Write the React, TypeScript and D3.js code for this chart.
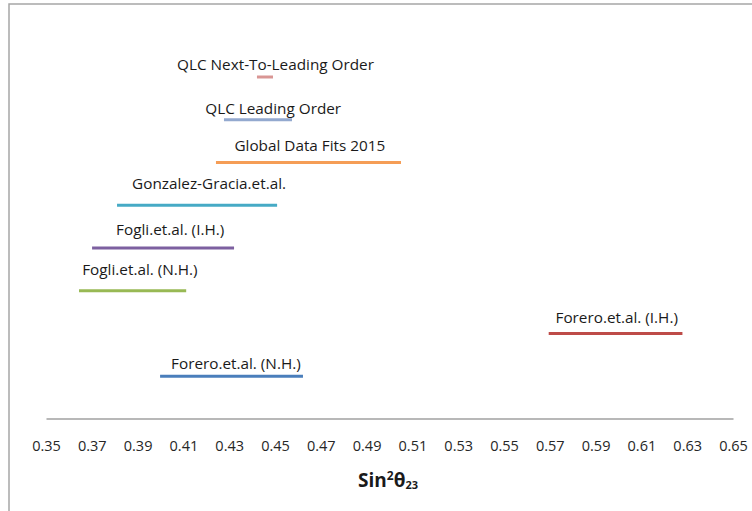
import React from "react";
import * as d3 from "d3";

const categories = [
  "Forero.et.al. (N.H.)",
  "Forero.et.al. (I.H.)",
  "Fogli.et.al. (N.H.)",
  "Fogli.et.al. (I.H.)",
  "Gonzalez-Gracia.et.al.",
  "Global Data Fits 2015",
  "QLC Leading Order",
  "QLC Next-To-Leading Order",
];
const rowValues = [1, 2, 3, 4, 5, 6, 7, 8];
const lowValues = [0.3996, 0.5693, 0.3642, 0.3699, 0.3808, 0.424, 0.4275, 0.4419];
const highValues = [0.462, 0.6277, 0.411, 0.4319, 0.4507, 0.5048, 0.4572, 0.4489];
// label anchor (data units)
const labelX = [0.4327, 0.599, 0.3908, 0.404, 0.421, 0.465, 0.449, 0.45];
const labelRow = [1.29, 2.36, 3.49, 4.44, 5.5, 6.39, 7.27, 8.28];
const colors = ["#4a7ebb", "#be4b48", "#98b954", "#7d60a0", "#46aac5", "#f59d56", "#93a9cf", "#d99694"];
const tickValues = [0.35, 0.37, 0.39, 0.41, 0.43, 0.45, 0.47, 0.49, 0.51, 0.53, 0.55, 0.57, 0.59, 0.61, 0.63, 0.65];

const W = 752;
const H = 511;

export default function App() {
  const x = d3.scaleLinear().domain([0.35, 0.65]).range([46.5, 733.5]);
  const y = d3.scaleLinear().domain([0, 8]).range([419, 77]);
  const font = "'Open Sans', 'Liberation Sans', sans-serif";
  return (
    <svg
      width={W}
      height={H}
      style={{ position: "absolute", left: 0, top: 0, background: "#fff" }}
      fontFamily={font}
    >
      <rect x={9} y={4} width={900} height={700} fill="#fff" stroke="#a6a6a6" strokeWidth={1.5} />
      <line x1={x(0.35)} x2={x(0.65)} y1={y(0)} y2={y(0)} stroke="#a0a0a0" strokeWidth={1.5} />
      {tickValues.map((t) => (
        <text key={t} x={x(t)} y={451} textAnchor="middle" fontSize={14.5} fill="#262626">
          {d3.format(".2f")(t)}
        </text>
      ))}
      <text x={388} y={487} textAnchor="middle" fontSize={19} fontWeight="bold" fill="#1a1a1a">
        <tspan>Sin</tspan>
        <tspan fontSize={12} dy={-7}>2</tspan>
        <tspan dy={7}>θ</tspan>
        <tspan fontSize={11} dy={2}>23</tspan>
      </text>
      {categories.map((c, i) => (
        <g key={c}>
          <line
            x1={x(lowValues[i])}
            x2={x(highValues[i])}
            y1={y(rowValues[i])}
            y2={y(rowValues[i])}
            stroke={colors[i]}
            strokeWidth={3}
          />
          <text
            x={x(labelX[i])}
            y={y(labelRow[i])}
            dy="0.35em"
            textAnchor="middle"
            fontSize={15.3}
            fill="#1a1a1a"
          >
            {c}
          </text>
        </g>
      ))}
    </svg>
  );
}
